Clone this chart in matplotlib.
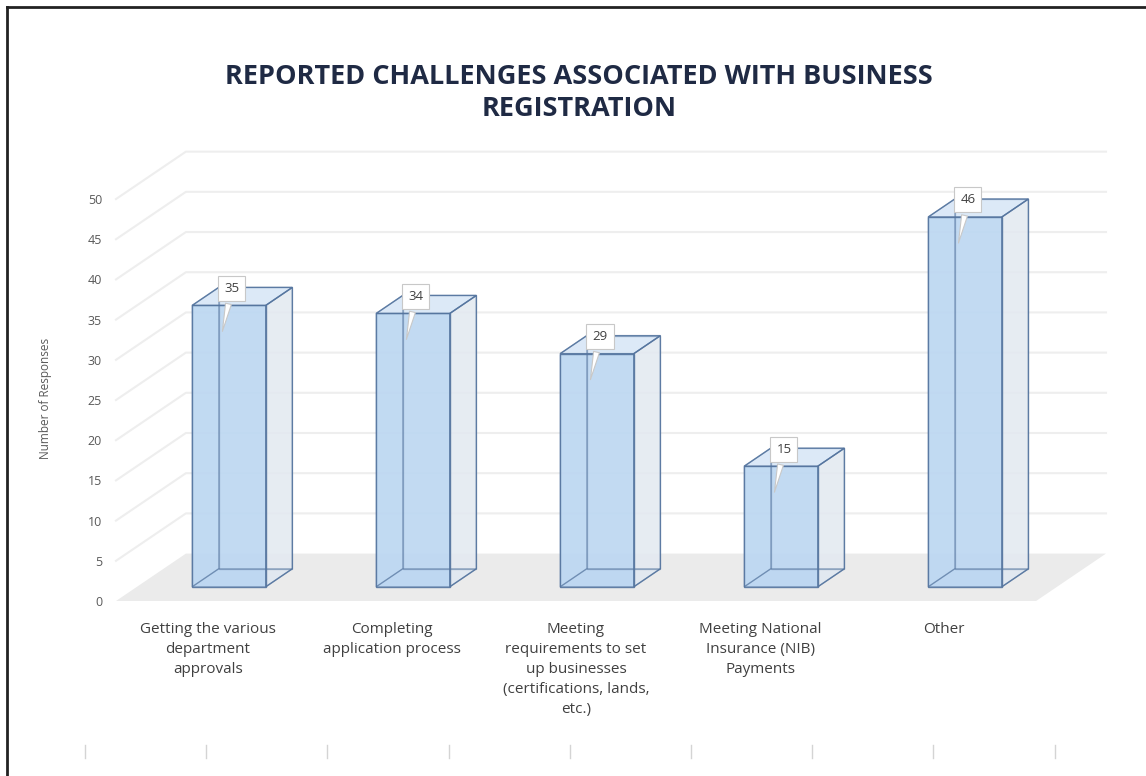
import numpy as np
import matplotlib
matplotlib.use('Agg')
import matplotlib.pyplot as plt
from matplotlib.patches import Polygon
from matplotlib.lines import Line2D

# 数据
categories = [
    'Getting the various\ndepartment\napprovals',
    'Completing\napplication process',
    'Meeting\nrequirements to set\nup businesses\n(certifications, lands,\netc.)',
    'Meeting National\nInsurance (NIB)\nPayments',
    'Other',
]
responses = [35, 34, 29, 15, 46]
y_ticks = list(range(0, 55, 5))

title = 'REPORTED CHALLENGES ASSOCIATED WITH BUSINESS\nREGISTRATION'
y_label = 'Number of Responses'

plt.rcParams['font.family'] = ['Open Sans', 'DejaVu Sans']

# 伪 3D 参数：深度方向在 x / y 上的偏移
DX, DY = 0.38, 5.9
Z0, Z1 = 0.30, 0.68      # 柱子在深度方向的前后位置
HALF_W = 0.2
X_MIN, X_MAX = -0.5, len(categories) - 0.5


def proj(x, y, z):
    return (x + z * DX, y + z * DY)


fig = plt.figure(figsize=(11.46, 7.76), dpi=100)
ax = fig.add_axes([0.1012, 0.2255, 0.8639, 0.5791])
ax.set_xlim(X_MIN, X_MAX + DX)
ax.set_ylim(0, max(y_ticks) + DY)
for s in ax.spines.values():
    s.set_visible(False)

# 地板
floor = Polygon([proj(X_MIN, 0, 0), proj(X_MAX, 0, 0), proj(X_MAX, 0, 1), proj(X_MIN, 0, 1)],
                closed=True, fc='#ebebeb', ec='none', zorder=1)
ax.add_patch(floor)

# 侧墙 + 背墙网格线
for v in y_ticks[1:]:
    pts = [proj(X_MIN, v, 0), proj(X_MIN, v, 1), proj(X_MAX, v, 1)]
    ax.plot([p[0] for p in pts], [p[1] for p in pts], color='#eeeeee', lw=1.5, zorder=0.5,
            clip_on=False)

edge = '#55759f'
for i, v in enumerate(responses):
    x0, x1 = i - HALF_W, i + HALF_W
    P = proj
    back_faces = [
        ([P(x0, 0, Z1), P(x1, 0, Z1), P(x1, v, Z1), P(x0, v, Z1)], '#d4e2f1', 0.5),
        ([P(x0, 0, Z0), P(x0, 0, Z1), P(x0, v, Z1), P(x0, v, Z0)], '#c9dcf0', 0.5),
        ([P(x0, 0, Z0), P(x1, 0, Z0), P(x1, 0, Z1), P(x0, 0, Z1)], '#c4daf1', 0.6),
    ]
    front_faces = [
        ([P(x1, 0, Z0), P(x1, 0, Z1), P(x1, v, Z1), P(x1, v, Z0)], '#e6ebf1', 0.75),
        ([P(x0, v, Z0), P(x1, v, Z0), P(x1, v, Z1), P(x0, v, Z1)], '#dae8f7', 0.85),
        ([P(x0, 0, Z0), P(x1, 0, Z0), P(x1, v, Z0), P(x0, v, Z0)], '#bad6f2', 0.82),
    ]
    for pts, fc, a in back_faces:
        ax.add_patch(Polygon(pts, closed=True, fc=fc, alpha=a, ec='none', zorder=2))
        ax.add_patch(Polygon(pts, closed=True, fill=False, ec=edge, lw=0.9, alpha=0.5, zorder=3.6))
    for pts, fc, a in front_faces:
        ax.add_patch(Polygon(pts, closed=True, fc=fc, alpha=a, ec='none', zorder=3))
        ax.add_patch(Polygon(pts, closed=True, fill=False, ec=edge, lw=1.0, alpha=0.9, zorder=3.7))

    # 数据标签（标注框）
    ax.annotate(str(v), xy=(i + 0.075, v - 1.8), xytext=(i + 0.13, v + 3.9),
                ha='center', va='center', fontsize=9.5, color='#404040', zorder=5,
                bbox=dict(boxstyle='square,pad=0.45', fc='white', ec='#c8c8c8', lw=0.8),
                arrowprops=dict(arrowstyle='wedge,tail_width=0.45,shrink_factor=0.5',
                                fc='white', ec='#c8c8c8', lw=0.8))

ax.set_yticks(y_ticks)
ax.set_yticklabels([str(t) for t in y_ticks], fontsize=9, color='#595959')
ax.set_xticks(range(len(categories)))
ax.set_xticklabels(categories, fontsize=11, color='#404040', linespacing=1.45, va='top')
ax.tick_params(axis='y', length=0, pad=10)
ax.tick_params(axis='x', length=0, pad=15)

fig.text(45 / 1146, 1 - 398 / 776, y_label, rotation=90, ha='center', va='center',
         fontsize=8.5, color='#595959')
fig.text(0.505, 1 - 93 / 776, title, ha='center', va='center', fontsize=19.5, fontweight='bold',
         color='#1f2a44', linespacing=1.25)

# 外框
fig.add_artist(Line2D([7 / 1146, 7 / 1146], [0, 1 - 7 / 776], color='#222222', lw=2))
fig.add_artist(Line2D([7 / 1146, 1], [1 - 7 / 776, 1 - 7 / 776], color='#222222', lw=2))

# 底部残留刻度
for xp in np.arange(85, 1100, 121.2):
    fig.add_artist(Line2D([xp / 1146, xp / 1146], [1 - 758 / 776, 1 - 745 / 776],
                          color='#d4d4d4', lw=1))

fig.savefig('out.png', dpi=100, facecolor='white')
